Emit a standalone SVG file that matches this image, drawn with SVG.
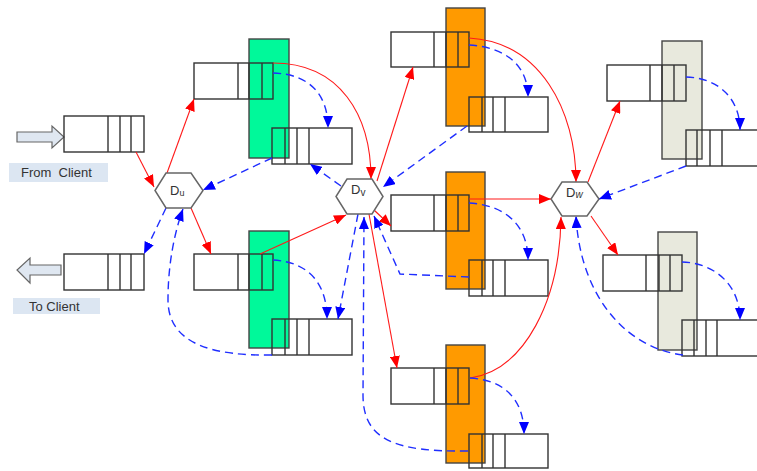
<svg xmlns="http://www.w3.org/2000/svg" width="757" height="471" viewBox="0 0 757 471">
  <defs>
    <style>
      .q { fill: none; stroke: #333; stroke-width: 1.4; }
      .hex { fill: #fff; stroke: #666; stroke-width: 1.5; }
      .green { fill: #00f99a; stroke: #444; stroke-width: 1.4; }
      .orange { fill: #ff9a00; stroke: #444; stroke-width: 1.4; }
      .grey { fill: #e8e9dd; stroke: #444; stroke-width: 1.4; }
      .red { fill: none; stroke: #ff1a1a; stroke-width: 1.1; marker-end: url(#ar); }
      .blue { fill: none; stroke: #1f2eff; stroke-width: 1.4; stroke-dasharray: 8 5; marker-end: url(#ab); }
      .lbl { fill: #dce6f2; }
      .t { font-family: "Liberation Sans", Arial, sans-serif; fill: #333; }
      .big { fill: #dfe7f1; stroke: #666; stroke-width: 1.2; }
    </style>
    <marker id="ar" viewBox="0 0 12 10" refX="12" refY="5" markerWidth="12" markerHeight="10" markerUnits="userSpaceOnUse" orient="auto">
      <path d="M0,0 L12,5 L0,10 z" fill="#ff0000"/>
    </marker>
    <marker id="ab" viewBox="0 0 12 10" refX="12" refY="5" markerWidth="12" markerHeight="10" markerUnits="userSpaceOnUse" orient="auto">
      <path d="M0,0 L12,5 L0,10 z" fill="#0000ff"/>
    </marker>
  </defs>

  <rect width="757" height="471" fill="#fff"/>

  <!-- client input -->
  <g id="client-in">
    <path class="big" d="M17,132 L52,132 L52,126 L64,137 L52,148 L52,142 L17,142 z"/>
    <rect class="q" x="64" y="116" width="80" height="36"/>
    <path class="q" d="M108,116 V152 M120,116 V152 M131,116 V152"/>
    <rect class="lbl" x="9" y="163" width="99" height="19"/>
    <text class="t" x="21" y="177" font-size="13" xml:space="preserve">From  Client</text>
  </g>

  <!-- client output -->
  <g id="client-out">
    <path class="big" d="M61,265 L30,265 L30,258 L17,270 L30,283 L30,275 L61,275 z"/>
    <rect class="q" x="64" y="254" width="80" height="36"/>
    <path class="q" d="M108,254 V290 M120,254 V290 M131,254 V290"/>
    <rect class="lbl" x="13" y="298" width="87" height="16"/>
    <text class="t" x="29" y="311" font-size="13">To Client</text>
  </g>

  <!-- green server, upper -->
  <g id="node-a1">
    <rect class="green" x="249" y="39" width="40" height="119"/>
    <rect class="q" x="194" y="63" width="79" height="36"/>
    <path class="q" d="M238,63 V99 M249,63 V99 M262,63 V99"/>
    <rect class="q" x="272" y="128" width="80" height="36"/>
    <path class="q" d="M285,128 V164 M297,128 V164 M309,128 V164"/>
  </g>

  <!-- green server, lower -->
  <g id="node-a2">
    <rect class="green" x="249" y="231" width="40" height="117"/>
    <rect class="q" x="194" y="254" width="79" height="36"/>
    <path class="q" d="M238,254 V290 M249,254 V290 M262,254 V290"/>
    <rect class="q" x="272" y="319" width="80" height="36"/>
    <path class="q" d="M285,319 V355 M297,319 V355 M309,319 V355"/>
  </g>

  <!-- orange servers -->
  <g id="node-b1">
    <rect class="orange" x="446" y="8" width="39" height="118"/>
    <rect class="q" x="391" y="32" width="78" height="35"/>
    <path class="q" d="M434,32 V67 M446,32 V67 M458,32 V67"/>
    <rect class="q" x="469" y="97" width="79" height="35"/>
    <path class="q" d="M482,97 V132 M493,97 V132 M505,97 V132"/>
  </g>
  <g id="node-b2">
    <rect class="orange" x="446" y="172" width="39" height="117"/>
    <rect class="q" x="391" y="195" width="78" height="36"/>
    <path class="q" d="M434,195 V231 M446,195 V231 M458,195 V231"/>
    <rect class="q" x="469" y="260" width="79" height="36"/>
    <path class="q" d="M482,260 V296 M493,260 V296 M505,260 V296"/>
  </g>
  <g id="node-b3">
    <rect class="orange" x="446" y="345" width="39" height="118"/>
    <rect class="q" x="391" y="368" width="78" height="36"/>
    <path class="q" d="M434,368 V404 M446,368 V404 M458,368 V404"/>
    <rect class="q" x="469" y="434" width="79" height="34"/>
    <path class="q" d="M482,434 V468 M493,434 V468 M505,434 V468"/>
  </g>

  <!-- grey servers -->
  <g id="node-c1">
    <rect class="grey" x="662" y="41" width="40" height="118"/>
    <rect class="q" x="607" y="65" width="79" height="36"/>
    <path class="q" d="M650,65 V101 M662,65 V101 M674,65 V101"/>
    <rect class="q" x="686" y="130" width="82" height="36"/>
    <path class="q" d="M697,130 V166 M710,130 V166 M722,130 V166"/>
  </g>
  <g id="node-c2">
    <rect class="grey" x="658" y="232" width="39" height="118"/>
    <rect class="q" x="603" y="255" width="79" height="36"/>
    <path class="q" d="M646,255 V291 M659,255 V291 M670,255 V291"/>
    <rect class="q" x="682" y="320" width="86" height="36"/>
    <path class="q" d="M694,320 V356 M706,320 V356 M717,320 V356"/>
  </g>

  <!-- connectors -->
  <g id="connectors">
    <!-- requests (red) -->
    <path class="red" d="M136,152 L154,187"/>
    <path class="red" d="M167,173 L194,99"/>
    <path class="red" d="M191,208 L211,254"/>
    <path class="red" d="M273,63 C340,63 371,115 371,179"/>
    <path class="red" d="M260,254 L346,215"/>
    <path class="red" d="M377,181 L413,67"/>
    <path class="red" d="M374,210 L391,226"/>
    <path class="red" d="M369,214 L397,368"/>
    <path class="red" d="M469,38 C540,42 576,110 576,182"/>
    <path class="red" d="M469,199 L551,199"/>
    <path class="red" d="M470,378 C525,370 560,300 561,217"/>
    <path class="red" d="M588,182 L620,101"/>
    <path class="red" d="M591,216 L618,255"/>

    <!-- responses (blue, dashed) -->
    <path class="blue" d="M273,73 C310,74 328,95 328,128"/>
    <path class="blue" d="M272,158 L203,190"/>
    <path class="blue" d="M341,186 L310,164"/>
    <path class="blue" d="M166,208 L144,254"/>
    <path class="blue" d="M272,355 C215,356 168,345 168,300 C168,260 176,228 183,209"/>
    <path class="blue" d="M273,260 C310,262 327,285 327,319"/>
    <path class="blue" d="M358,214 L338,319"/>
    <path class="blue" d="M468,451 C395,452 363,440 363,395 L364,217"/>
    <path class="blue" d="M469,277 L400,274 L374,216"/>
    <path class="blue" d="M469,203 C505,205 528,225 528,260"/>
    <path class="blue" d="M469,45 C505,47 528,65 528,97"/>
    <path class="blue" d="M467,126 L383,187"/>
    <path class="blue" d="M470,378 C505,380 524,400 524,434"/>
    <path class="blue" d="M686,77 C720,78 740,100 740,130"/>
    <path class="blue" d="M686,166 L599,199"/>
    <path class="blue" d="M682,262 C715,263 740,285 740,320"/>
    <path class="blue" d="M683,355 C625,348 580,295 576,216"/>
  </g>

  <!-- dispatchers -->
  <g id="dispatcher-u">
    <polygon class="hex" points="166,173 191,173 203,190.5 191,208 166,208 155,190.5"/>
    <text class="t" x="170" y="195" font-size="13" fill="#444">D<tspan font-size="9" dy="1">u</tspan></text>
  </g>
  <g id="dispatcher-v">
    <polygon class="hex" points="347,179 372,179 383,196.5 372,214 347,214 336,196.5"/>
    <text class="t" x="351" y="194" font-size="13" fill="#444">D<tspan font-size="10" dy="2">v</tspan></text>
  </g>
  <g id="dispatcher-w">
    <polygon class="hex" points="562,182 587,182 599,199 587,216 562,216 551,199"/>
    <text class="t" x="566" y="197" font-size="13" fill="#444">D<tspan font-size="10" dy="1" font-style="italic">w</tspan></text>
  </g>
</svg>
